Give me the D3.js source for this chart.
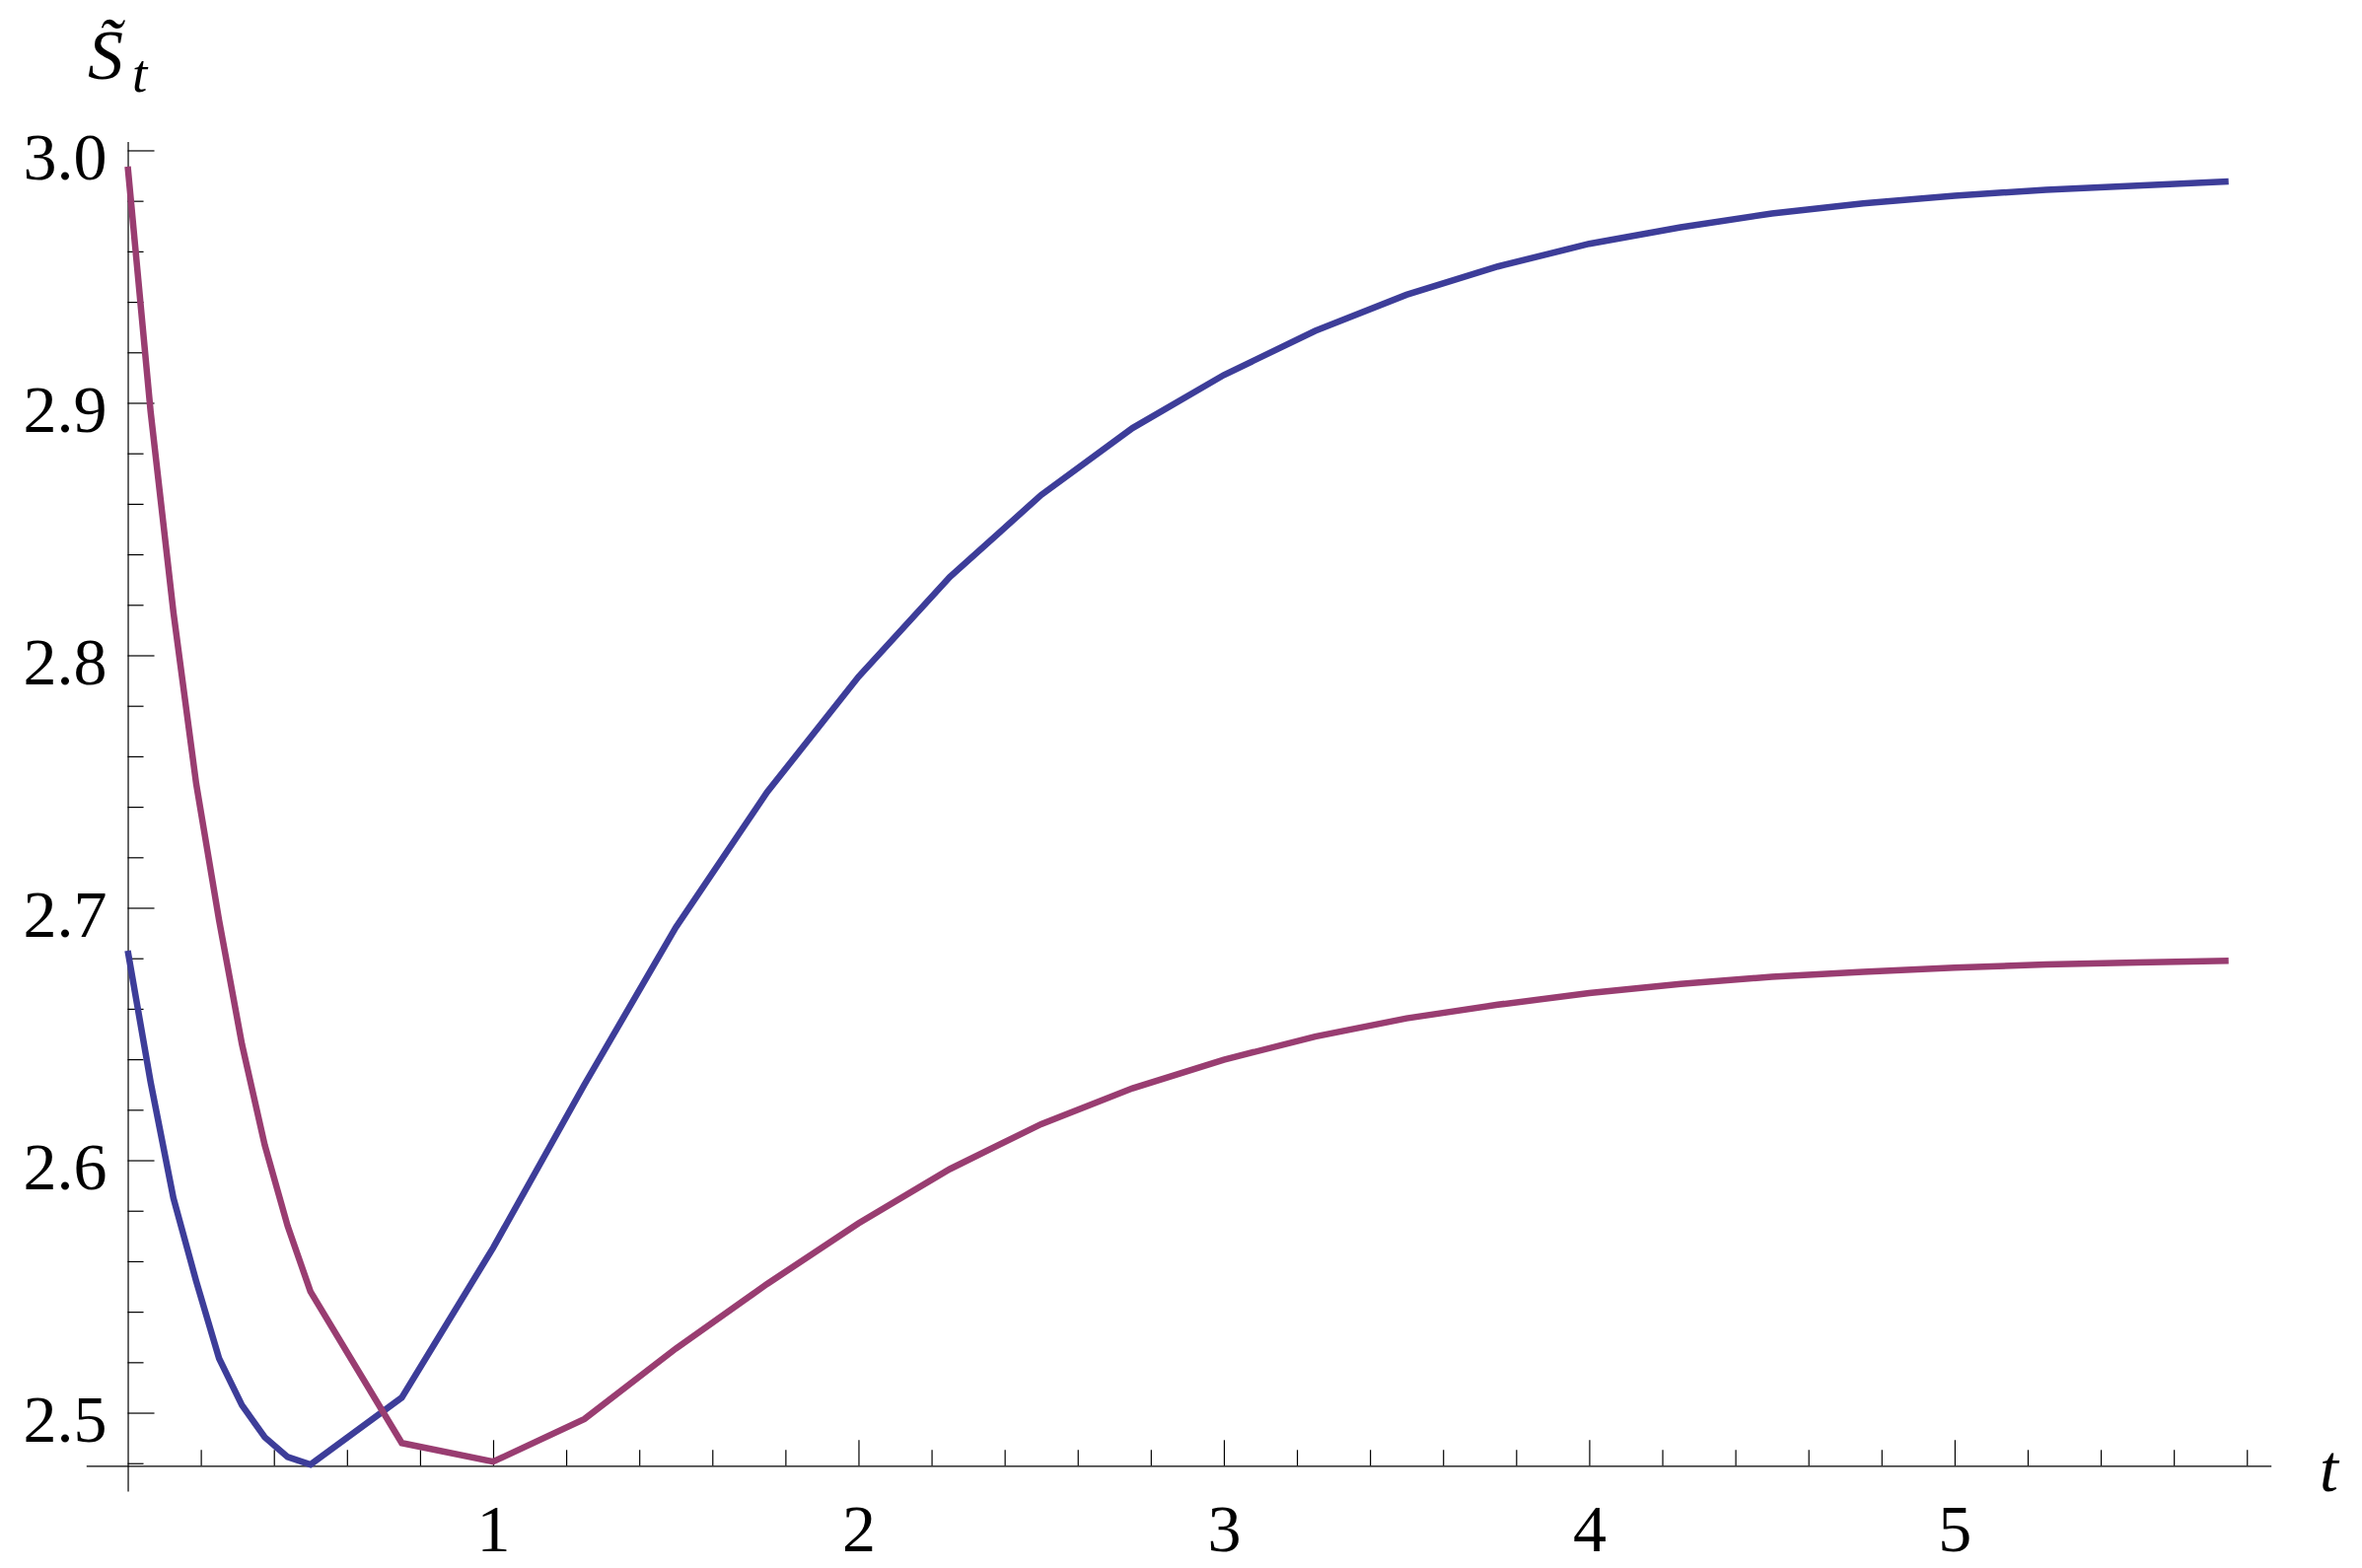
<!DOCTYPE html>
<html>
<head>
<meta charset="utf-8">
<script src="https://cdn.jsdelivr.net/npm/d3@7"></script>
<style>
  body { margin: 0; background: #fff; }
  svg { display: block; }
</style>
</head>
<body>
<div id="chart"></div>
<script>
// sample times shared by both curves
var tValues = [0, 0.0625, 0.125, 0.1875, 0.25, 0.3125, 0.375, 0.4375, 0.5,
  0.75, 1.0, 1.25, 1.5, 1.75, 2.0, 2.25, 2.5, 2.75, 3.0, 3.25, 3.5, 3.75,
  4.0, 4.25, 4.5, 4.75, 5.0, 5.25, 5.5, 5.75];

var blueValues = [2.683, 2.631, 2.585, 2.552, 2.5215, 2.503, 2.4903, 2.4825, 2.4795,
  2.506, 2.5653, 2.630, 2.6922, 2.7458, 2.7915, 2.831, 2.8635, 2.890, 2.911, 2.9285,
  2.9428, 2.954, 2.963, 2.9695, 2.975, 2.979, 2.982, 2.9844, 2.986, 2.9877];

var purpleValues = [2.9936, 2.8966, 2.817, 2.749, 2.695, 2.646, 2.606, 2.574, 2.548,
  2.488, 2.4806, 2.4975, 2.5254, 2.551, 2.575, 2.5965, 2.6143, 2.6285, 2.6398, 2.649,
  2.6562, 2.6616, 2.6662, 2.6698, 2.6727, 2.6746, 2.6763, 2.6775, 2.6783, 2.679];

var xMajorTicks = [1, 2, 3, 4, 5];
var xMinorTicks = [0.2, 0.4, 0.6, 0.8, 1.2, 1.4, 1.6, 1.8, 2.2, 2.4, 2.6, 2.8,
  3.2, 3.4, 3.6, 3.8, 4.2, 4.4, 4.6, 4.8, 5.2, 5.4, 5.6, 5.8];
var yMajorTicks = [2.5, 2.6, 2.7, 2.8, 2.9, 3.0];
var yMinorTicks = [2.48, 2.52, 2.54, 2.56, 2.58, 2.62, 2.64, 2.66, 2.68, 2.72, 2.74,
  2.76, 2.78, 2.82, 2.84, 2.86, 2.88, 2.92, 2.94, 2.96, 2.98];

var svgWidth = 2395, svgHeight = 1590;
var fontFamily = "'Liberation Serif', 'Times New Roman', serif";

var svg = d3.select("#chart")
  .append("svg")
  .attr("width", svgWidth)
  .attr("height", svgHeight);

svg.append("rect")
  .attr("width", svgWidth)
  .attr("height", svgHeight)
  .attr("fill", "#fff");

var x = d3.scaleLinear()
  .domain([-0.114, 5.866])
  .range([87.3, 2302.7]);

var y = d3.scaleLinear()
  .domain([2.469, 3.0035])
  .range([1511.9, 143.5]);

var xAxisAt = 2.479;   // where the t axis crosses
var yAxisAt = 0;

// x axis, ticks pointing up
var xAxis = svg.append("g")
  .attr("transform", "translate(0," + y(xAxisAt) + ")")
  .call(d3.axisBottom(x)
    .tickValues(xMajorTicks)
    .tickSizeInner(-26)
    .tickSizeOuter(0)
    .tickPadding(38)
    .tickFormat(d3.format("d")));

svg.append("g")
  .attr("transform", "translate(0," + y(xAxisAt) + ")")
  .call(d3.axisBottom(x)
    .tickValues(xMinorTicks)
    .tickSizeInner(-16)
    .tickSizeOuter(0)
    .tickFormat(""))
  .call(function(g) { g.select(".domain").remove(); });

// y axis, ticks pointing right
var yAxis = svg.append("g")
  .attr("transform", "translate(" + x(yAxisAt) + ",0)")
  .call(d3.axisLeft(y)
    .tickValues(yMajorTicks)
    .tickSizeInner(-27)
    .tickSizeOuter(0)
    .tickPadding(21)
    .tickFormat(d3.format(".1f")));

svg.append("g")
  .attr("transform", "translate(" + x(yAxisAt) + ",0)")
  .call(d3.axisLeft(y)
    .tickValues(yMinorTicks)
    .tickSizeInner(-16)
    .tickSizeOuter(0)
    .tickFormat(""))
  .call(function(g) { g.select(".domain").remove(); });

svg.selectAll(".domain, .tick line")
  .attr("stroke", "#000")
  .attr("stroke-width", 1.2);

xAxis.selectAll("text")
  .attr("font-family", fontFamily)
  .attr("font-size", 68)
  .attr("fill", "#000");

yAxis.selectAll("text")
  .attr("font-family", fontFamily)
  .attr("font-size", 68)
  .attr("fill", "#000")
  .attr("dy", "0.42em");

// axis labels
svg.append("text")
  .attr("x", 2352)
  .attr("y", 1512)
  .attr("font-family", fontFamily)
  .attr("font-style", "italic")
  .attr("font-size", 68)
  .text("t");

var yLabel = svg.append("text")
  .attr("font-family", fontFamily)
  .attr("font-style", "italic")
  .attr("font-size", 72);
yLabel.append("tspan")
  .attr("x", 89)
  .attr("y", 80)
  .text("S\u0303");
yLabel.append("tspan")
  .attr("x", 134)
  .attr("y", 93)
  .attr("font-size", 55)
  .text("t");

// curves
var line = d3.line()
  .x(function(d) { return x(d.t); })
  .y(function(d) { return y(d.v); });

var series = [
  { values: blueValues, color: "#3d3d99" },
  { values: purpleValues, color: "#993d71" }
];

series.forEach(function(s) {
  var data = tValues.map(function(t, i) { return { t: t, v: s.values[i] }; });
  svg.append("path")
    .datum(data)
    .attr("fill", "none")
    .attr("stroke", s.color)
    .attr("stroke-width", 6.5)
    .attr("d", line);
});
</script>
</body>
</html>
